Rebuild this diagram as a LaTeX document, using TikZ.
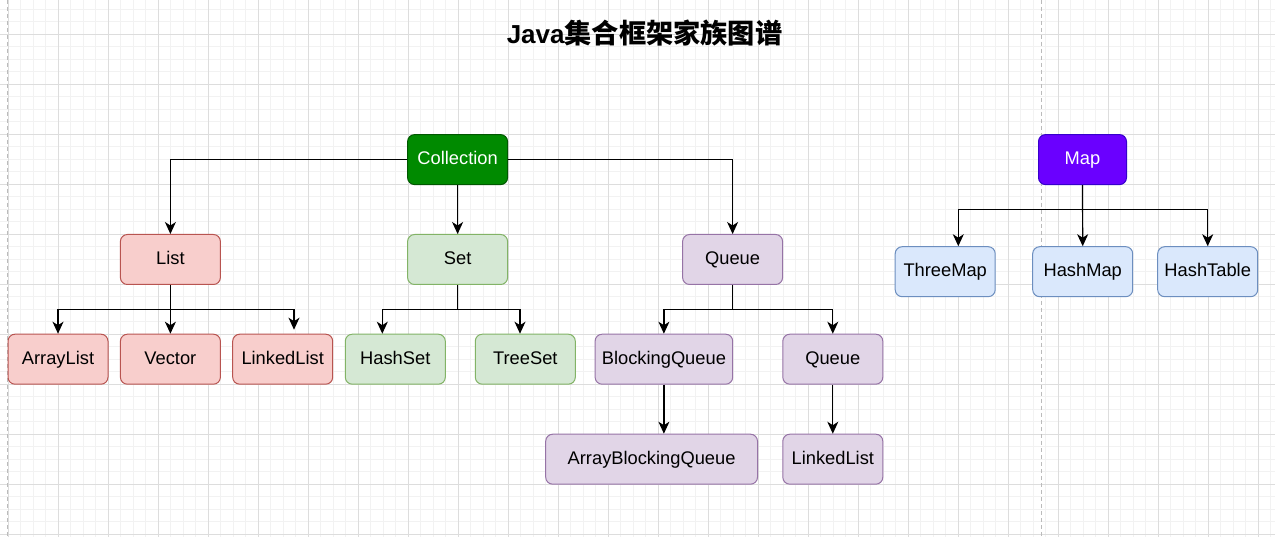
\documentclass[tikz,border=0pt]{standalone}
\usepackage{fontspec}
\setmainfont{Liberation Sans}
\newfontfamily\cjk{Noto Sans CJK SC}
\usepackage{tikz}
\usetikzlibrary{arrows.meta}
\usetikzlibrary{positioning}
\definecolor{collectionGreen}{HTML}{008A00}
\definecolor{collectionGreenLine}{HTML}{005700}
\definecolor{mapViolet}{HTML}{6A00FF}
\definecolor{mapVioletLine}{HTML}{3700CC}
\definecolor{listRed}{HTML}{F8CECC}
\definecolor{listRedLine}{HTML}{B85450}
\definecolor{setGreen}{HTML}{D5E8D4}
\definecolor{setGreenLine}{HTML}{82B366}
\definecolor{queuePurple}{HTML}{E1D5E7}
\definecolor{queuePurpleLine}{HTML}{9673A6}
\definecolor{mapBlue}{HTML}{DAE8FC}
\definecolor{mapBlueLine}{HTML}{6C8EBF}
\definecolor{gridMinor}{HTML}{F2F2F2}
\definecolor{gridMajor}{HTML}{DDDDDD}
\definecolor{pageBreak}{HTML}{BBBBBB}

\begin{document}
\begin{tikzpicture}[x=1pt,y=-1pt,>={Stealth[length=12pt,width=11pt,inset=3.5pt]}]
\tikzset{MinorGrid/.style={draw=gridMinor, line width=0.8pt}}
\tikzset{MajorGrid/.style={draw=gridMajor, line width=0.9pt}}
\tikzset{PageBreak/.style={draw=pageBreak, line width=0.9pt, dash pattern=on 4pt off 3pt}}
\tikzset{Link/.style={draw=black, line width=1.2pt, ->}}

\tikzset{BaseBox/.style={
  rectangle,
  rounded corners=7pt,
  line width=1pt,
  align=center,
  inner sep=0pt,
  minimum width=100pt,
  minimum height=50pt,
  text height=13.3pt,
  text depth=3.1pt,
  font=\fontsize{18.3pt}{20pt}\selectfont
}}
\tikzset{RootCollection/.style={BaseBox, draw=collectionGreenLine, fill=collectionGreen, text=white}}
\tikzset{RootMap/.style={BaseBox, draw=mapVioletLine, fill=mapViolet, text=white, minimum width=88pt}}
\tikzset{ListLevel/.style={BaseBox, draw=listRedLine, fill=listRed}}
\tikzset{SetLevel/.style={BaseBox, draw=setGreenLine, fill=setGreen}}
\tikzset{QueueLevel/.style={BaseBox, draw=queuePurpleLine, fill=queuePurple}}
\tikzset{MapLevel/.style={BaseBox, draw=mapBlueLine, fill=mapBlue}}

\useasboundingbox (0,0) rectangle (1275,537);
\fill[white] (0,0) rectangle (1275,537);

% background grid
\foreach \i in {0,...,102} {\draw[MinorGrid] ({-4.2+12.5*\i},0) -- ++(0,537);}
\foreach \i in {0,...,43} {\draw[MinorGrid] (0,{-3.2+12.5*\i}) -- ++(1275,0);}
\foreach \i in {0,...,25} {\draw[MajorGrid] ({8.3+50*\i},0) -- ++(0,537);}
\foreach \i in {0,...,10} {\draw[MajorGrid] (0,{34.3+50*\i}) -- ++(1275,0);}
\draw[PageBreak] (7.3,0) -- (7.3,537);
\draw[PageBreak] (1041.7,0) -- (1041.7,537);

\node[anchor=base, font=\bfseries, inner sep=0pt] (title) at (644.5,43.3)
  {\fontsize{26pt}{30pt}\selectfont Java\fontsize{27.2pt}{30pt}\cjk\bfseries 集合框架家族图谱};

\node[RootCollection] (collection) at (457.6,159.6) {Collection};
\node[RootMap] (map) at (1082.5,159.6) {Map};

\node[ListLevel] (list) at (170.4,259.5) {List};
\node[SetLevel] (set) at (457.6,259.5) {Set};
\node[QueueLevel] (queue) at (732.6,259.5) {Queue};

\node[ListLevel] (arraylist) at (58,359.2) {ArrayList};
\node[ListLevel] (vector) at (170.4,359.2) {Vector};
\node[ListLevel] (linkedlist) at (282.7,359.2) {LinkedList};
\node[SetLevel] (hashset) at (395.3,359.2) {HashSet};
\node[SetLevel] (treeset) at (525.3,359.2) {TreeSet};
\node[QueueLevel, minimum width=137.6pt] (blockingqueue) at (663.9,359.2) {BlockingQueue};
\node[QueueLevel] (subqueue) at (832.8,359.2) {Queue};
\node[QueueLevel, minimum width=211.8pt] (arrayblockingqueue) at (651.6,459.2) {ArrayBlockingQueue};
\node[QueueLevel] (queuelinkedlist) at (832.8,459.2) {LinkedList};

\node[MapLevel] (threemap) at (945.2,271.7) {ThreeMap};
\node[MapLevel] (hashmap) at (1082.7,271.7) {HashMap};
\node[MapLevel] (hashtable) at (1207.7,271.7) {HashTable};

% Collection
\draw[Link] (collection.west) -| (list.north);
\draw[Link] (collection.south) -- (set.north);
\draw[Link] (collection.east) -| (queue.north);

% List
\draw[Link] (list.south) -- ++(0,24.6) -| (arraylist.north);
\draw[Link] (list.south) -- (vector.north);
\draw[Link] (list.south) -- ++(0,24.6) -| ([xshift=11.3pt,yshift=4pt]linkedlist.north);

% Set
\draw[Link] (set.south) -- ++(0,24.6) -| ([xshift=-13pt]hashset.north);
\draw[Link] (set.south) -- ++(0,24.6) -| ([xshift=-5.3pt]treeset.north);

% Queue
\draw[Link] (queue.south) -- ++(0,24.6) -| (blockingqueue.north);
\draw[Link] (queue.south) -- ++(0,24.6) -| (subqueue.north);
\draw[Link] (blockingqueue.south) -- (blockingqueue.south |- arrayblockingqueue.north);
\draw[Link] (subqueue.south) -- (queuelinkedlist.north);

% Map
\draw[Link] (map.south) -- ++(0,24.3) -| ([xshift=13.1pt]threemap.north);
\draw[Link] (map.south) -- (hashmap.north);
\draw[Link] (map.south) -- ++(0,24.3) -| (hashtable.north);
\end{tikzpicture}
\end{document}
